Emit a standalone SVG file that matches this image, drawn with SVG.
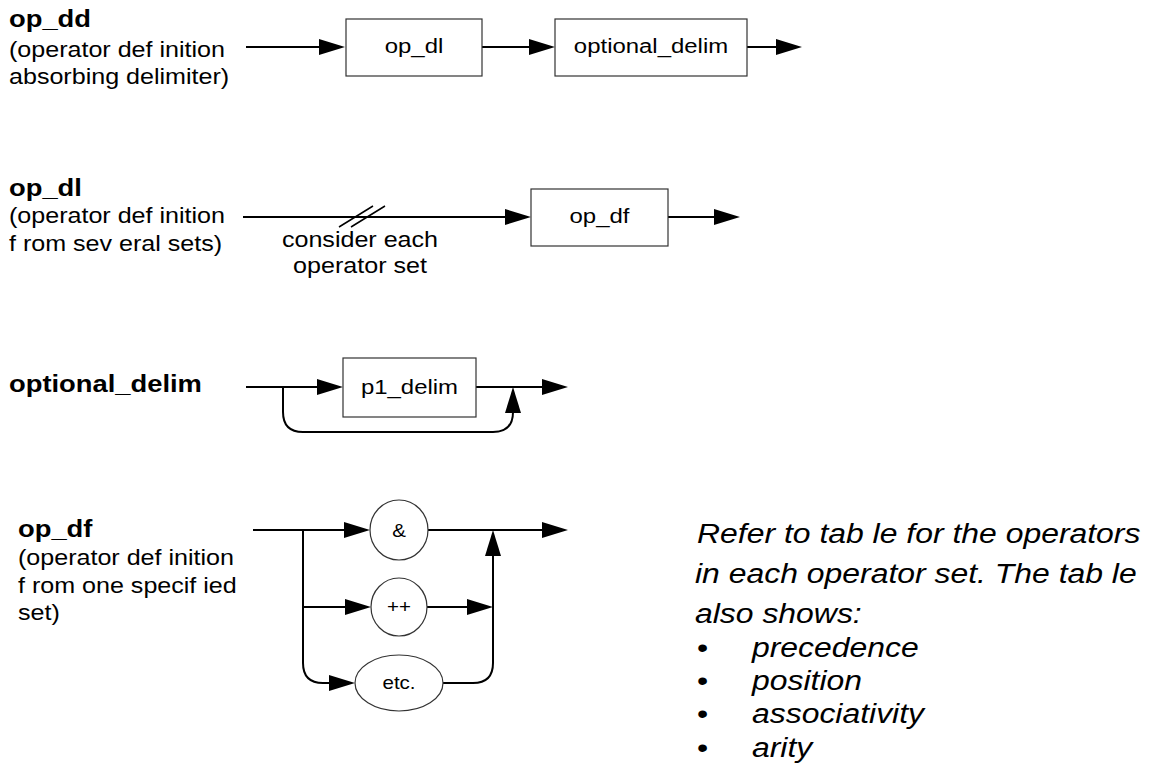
<svg xmlns="http://www.w3.org/2000/svg" width="1151" height="779" viewBox="0 0 1151 779">
  <defs>
    <style>
      .t{font-family:"Liberation Sans",Arial,Helvetica,sans-serif;fill:#000}
      .title{font-weight:bold;font-size:24px}
      .lab{font-size:22px}
      .mid{text-anchor:middle}
      .box{font-size:21px;text-anchor:middle}
      .sm{font-size:18px;text-anchor:middle}
      .note{font-size:28px;font-style:italic}
      .node{fill:#fff;stroke:#333;stroke-width:1.2}
      .wire{fill:none;stroke:#000;stroke-width:2;marker-end:url(#ah)}
      .plain{fill:none;stroke:#000;stroke-width:2}
      .tick{fill:none;stroke:#000;stroke-width:1.5}
    </style>
    <marker id="ah" markerUnits="userSpaceOnUse" viewBox="0 0 26 16" refX="22" refY="8" markerWidth="26" markerHeight="16" orient="auto">
      <path d="M0,0L26,8L0,16z" fill="#000"/>
    </marker>
  </defs>

  <rect width="1151" height="779" fill="#fff"/>

  <!-- rule names and descriptions -->
  <g id="labels">
    <text class="t title" transform="translate(9 27) scale(1.14 1)">op_dd</text>
    <text class="t lab" transform="translate(9 57) scale(1.14 1)">(operator def inition</text>
    <text class="t lab" transform="translate(9 84) scale(1.14 1)">absorbing delimiter)</text>

    <text class="t title" transform="translate(9 196) scale(1.14 1)">op_dl</text>
    <text class="t lab" transform="translate(9 223) scale(1.14 1)">(operator def inition</text>
    <text class="t lab" transform="translate(9 251) scale(1.14 1)">f rom sev eral sets)</text>

    <text class="t title" transform="translate(9 392) scale(1.14 1)">optional_delim</text>

    <text class="t title" transform="translate(18 537) scale(1.14 1)">op_df</text>
    <text class="t lab" transform="translate(18 565) scale(1.14 1)">(operator def inition</text>
    <text class="t lab" transform="translate(18 593) scale(1.14 1)">f rom one specif ied</text>
    <text class="t lab" transform="translate(18 620) scale(1.14 1)">set)</text>

    <text class="t lab mid" transform="translate(360 247) scale(1.14 1)">consider each</text>
    <text class="t lab mid" transform="translate(360 273) scale(1.14 1)">operator set</text>
  </g>

  <!-- connectors -->
  <g id="connectors">
    <!-- op_dd -->
    <path class="wire" d="M246,47H341"/>
    <path class="wire" d="M482,47H551"/>
    <path class="wire" d="M747,47H798"/>
    <!-- op_dl -->
    <path class="wire" d="M243,217H527"/>
    <path class="wire" d="M668,217H736"/>
    <path class="tick" d="M339,227L373,206M351,227L385,206"/>
    <!-- optional_delim -->
    <path class="wire" d="M246,387H339"/>
    <path class="wire" d="M476,387H564"/>
    <path class="wire" d="M283,387V412Q283,432 303,432H493Q513,432 513,412V391"/>
    <!-- op_df -->
    <path class="wire" d="M253,530H366"/>
    <path class="wire" d="M303,607H367"/>
    <path class="wire" d="M303,530V663Q303,683 323,683H351"/>
    <path class="wire" d="M428,530H564"/>
    <path class="wire" d="M427,607H489"/>
    <path class="wire" d="M443,683H473Q493,683 493,663V534"/>
  </g>

  <!-- nodes -->
  <g id="node-op_dl">
    <rect class="node" x="346" y="19" width="136" height="57"/>
    <text class="t box" transform="translate(414 53) scale(1.14 1)">op_dl</text>
  </g>
  <g id="node-optional_delim">
    <rect class="node" x="555" y="19" width="192" height="57"/>
    <text class="t box" transform="translate(651 53) scale(1.14 1)">optional_delim</text>
  </g>
  <g id="node-op_df">
    <rect class="node" x="531" y="189" width="137" height="57"/>
    <text class="t box" transform="translate(599.5 223) scale(1.14 1)">op_df</text>
  </g>
  <g id="node-p1_delim">
    <rect class="node" x="343" y="358" width="133" height="59"/>
    <text class="t box" transform="translate(409.5 394) scale(1.14 1)">p1_delim</text>
  </g>
  <g id="node-amp">
    <ellipse class="node" cx="399" cy="530" rx="29" ry="30"/>
    <text class="t sm" transform="translate(399 537) scale(1.14 1)">&amp;</text>
  </g>
  <g id="node-plusplus">
    <ellipse class="node" cx="399" cy="607" rx="28" ry="29"/>
    <text class="t sm" transform="translate(399 613) scale(1.14 1)">++</text>
  </g>
  <g id="node-etc">
    <ellipse class="node" cx="399" cy="683" rx="44" ry="28"/>
    <text class="t sm" transform="translate(399 689) scale(1.14 1)">etc.</text>
  </g>

  <!-- note on the operator table -->
  <g id="note">
    <text class="t note" transform="translate(697 543) scale(1.14 1)">Refer to tab le for the operators</text>
    <text class="t note" transform="translate(695 583) scale(1.14 1)">in each operator set. The tab le</text>
    <text class="t note" transform="translate(695 623) scale(1.14 1)">also shows:</text>
    <text class="t note" transform="translate(697 657) scale(1.14 1)" style="font-style:normal">•</text>
    <text class="t note" transform="translate(752 657) scale(1.14 1)">precedence</text>
    <text class="t note" transform="translate(697 690) scale(1.14 1)" style="font-style:normal">•</text>
    <text class="t note" transform="translate(752 690) scale(1.14 1)">position</text>
    <text class="t note" transform="translate(697 723) scale(1.14 1)" style="font-style:normal">•</text>
    <text class="t note" transform="translate(752 723) scale(1.14 1)">associativity</text>
    <text class="t note" transform="translate(697 757) scale(1.14 1)" style="font-style:normal">•</text>
    <text class="t note" transform="translate(752 757) scale(1.14 1)">arity</text>
  </g>
</svg>
